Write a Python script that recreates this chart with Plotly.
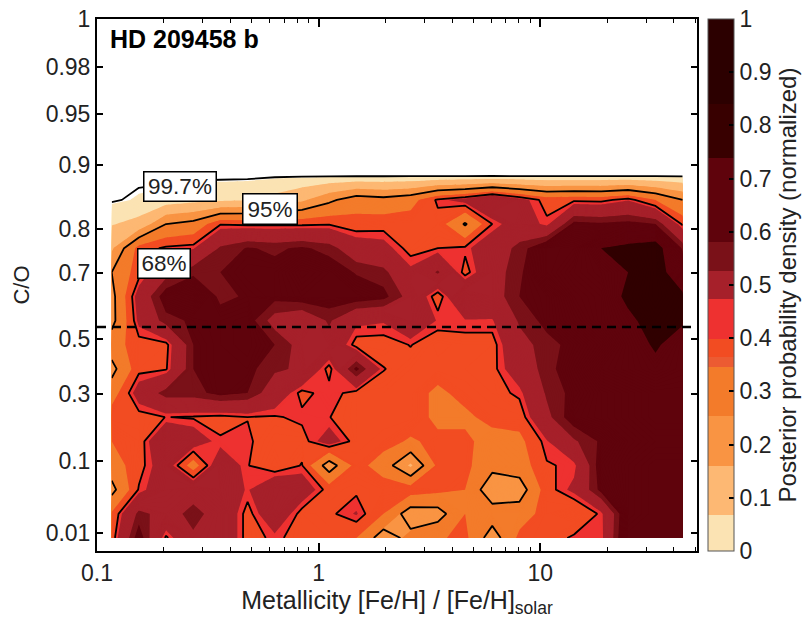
import plotly.graph_objects as go

metallicity = [.1165, .1545, .205, .272, .360, .478, .634, .841, 1.115, 1.48, 1.96,
               2.60, 3.45, 4.58, 6.07, 8.05, 10.7, 14.2, 18.8, 24.9, 33.1, 43.9]
row_pos = list(range(17))
density = [
 [.37,.62,.39,.52,.5,.38,.41,.38,.38,.34,.2,.28,.33,.36,.2,.36,.37,.41,.405,.68,.68,.68],
 [.35,.55,.5,.55,.5,.38,.49,.38,.39,.43,.34,.2,.21,.34,.3,.3,.37,.34,.41,.66,.68,.68],
 [.22,.405,.48,.5,.47,.42,.5,.47,.38,.39,.38,.38,.36,.34,.18,.2,.38,.44,.6,.66,.68,.68],
 [.3,.38,.47,.3,.49,.402,.365,.403,.2,.37,.30,.15,.36,.36,.28,.3,.395,.41,.62,.66,.68,.68],
 [.34,.37,.52,.47,.405,.405,.38,.38,.46,.38,.37,.33,.36,.36,.3,.32,.42,.52,.59,.64,.66,.66],
 [.38,.38,.401,.395,.385,.399,.395,.41,.401,.38,.38,.38,.32,.32,.37,.37,.51,.62,.64,.66,.68,.68],
 [.3,.46,.56,.56,.6,.58,.48,.385,.42,.38,.38,.38,.32,.37,.38,.41,.54,.6,.64,.66,.68,.68],
 [.22,.385,.395,.58,.6,.6,.54,.52,.38,.6,.402,.38,.38,.38,.385,.47,.56,.62,.68,.7,.72,.7],
 [.3,.38,.385,.58,.6,.61,.58,.5,.5,.38,.38,.402,.37,.38,.38,.5,.56,.6,.64,.7,.75,.7],
 [.22,.44,.56,.59,.6,.61,.5,.46,.54,.44,.43,.5,.42,.42,.42,.54,.6,.64,.68,.72,.78,.75],
 [.22,.46,.62,.64,.57,.585,.6,.62,.62,.62,.6,.5,.37,.53,.49,.58,.6,.66,.68,.76,.8,.76],
 [.25,.38,.5,.57,.58,.6,.6,.64,.62,.575,.55,.44,.54,.38,.49,.57,.65,.68,.7,.74,.8,.65],
 [.15,.37,.41,.42,.54,.585,.57,.59,.56,.47,.45,.38,.40,.41,.48,.55,.65,.66,.74,.77,.8,.57],
 [.07,.1,.25,.28,.396,.39,.39,.39,.396,.37,.38,.38,.38,.24,.40,.47,.41,.6,.59,.6,.58,.39],
 [.004,.02,.03,.05,.06,.07,.1,.15,.23,.3,.28,.31,.41,.45,.52,.45,.38,.39,.385,.42,.34,.25],
 [0,0,0,0,0,0,.004,.004,.004,.004,.004,.004,.004,.004,.004,.004,.004,.004,.004,.004,.004,.004],
 [0]*22,
]
band_edges = [0, .068, .16, .253, .345, .364, .398, .474, .526, .58, .738, .84, 1]
band_colors = ["#FBE3B3", "#FDB873", "#F99443", "#F37B2A", "#EC5B32", "#F24C22",
               "#EE3130", "#A6202A", "#7A1118", "#5F030C", "#380000", "#2C0000"]
map_edges = [0, .01, .068, .16, .253, .335, .398, .42, .526, .58, .738, 1]
map_colors = ["#FFFFFF", "#FBE3B3", "#FDB873", "#F99443", "#F37B2A", "#F24C22",
              "#EE3130", "#A6202A", "#7A1118", "#5F030C", "#300000"]
co_tick_pos = [.207, 3.19, 5.96, 8.24, 10.97, 12.8, 15.45, 17.57, 19.5, 21.49]
co_tick_text = ["0.01", "0.1", "0.3", "0.5", "0.7", "0.8", "0.9", "0.95", "0.98", "1"]
x_ticks = [.1, 1, 10]
x_tick_text = ["0.1", "1", "10"]
x_minor = [m * d for d in (.1, 1, 10) for m in range(2, 10)]
z_ticks = [0, .1, .2, .3, .4, .5, .6, .7, .8, .9, 1]
z_tick_text = ["0", "0.1", "0.2", "0.3", "0.4", "0.5", "0.6", "0.7", "0.8", "0.9", "1"]
solar_pos = 8.74
credible_levels = [.01, .25, .40]
FONT = "Liberation Sans"
INK = "#222222"


def stepped(edges, colors):
    scale = []
    for lo, hi, c in zip(edges[:-1], edges[1:], colors):
        scale += [[lo, c], [hi, c]]
    return scale


map_scale = stepped(map_edges, map_colors)
bar_scale = stepped(band_edges, band_colors)

fig = go.Figure()
fig.add_trace(go.Contour(
    x=metallicity, y=row_pos, z=density, autocontour=False, zmin=0, zmax=1,
    contours=dict(start=.005, end=1, size=.005, coloring="fill", showlines=False),
    colorscale=map_scale, showscale=False, line=dict(width=0, smoothing=0), hoverinfo="skip"))
for level in credible_levels:
    fig.add_trace(go.Contour(
        x=metallicity, y=row_pos, z=density, autocontour=False, showscale=False,
        contours=dict(start=level, end=level, size=1, coloring="none"),
        line=dict(color="black", width=1.8, smoothing=0), hoverinfo="skip"))
fig.add_trace(go.Scatter(
    x=[None], y=[None], mode="markers", hoverinfo="skip", showlegend=False,
    marker=dict(color=[0], cmin=0, cmax=1, colorscale=bar_scale, showscale=True,
                colorbar=dict(
                    x=1.0183, xanchor="left", xpad=0, ypad=0, y=.5, yanchor="middle",
                    len=1, lenmode="fraction", thickness=26, thicknessmode="pixels",
                    tickmode="array", tickvals=z_ticks, ticktext=z_tick_text,
                    ticks="inside", ticklen=5, tickcolor="black", tickwidth=1.5,
                    tickfont=dict(family=FONT, size=23, color=INK),
                    outlinecolor="#555555", outlinewidth=1, borderwidth=0,
                    title=dict(text="Posterior probability density (normalized)", side="right",
                               font=dict(family=FONT, size=24, color=INK))))))

fig.add_shape(type="line", xref="paper", x0=0, x1=1, yref="y", y0=solar_pos, y1=solar_pos,
              line=dict(color="black", width=2.5, dash="9px,6px"))

for text, cx, cy, w, h in [("99.7%", 180, 186, 71, 28), ("95%", 270, 209, 53, 29), ("68%", 164, 263, 51, 28)]:
    fig.add_annotation(text=text, xref="paper", yref="paper", x=(cx - 97) / 600, y=(551 - cy) / 532,
                       xanchor="center", yanchor="middle", showarrow=False, width=w, height=h,
                       bgcolor="white", bordercolor="black", borderwidth=1.5, borderpad=0,
                       font=dict(family=FONT, size=22.5, color=INK))
fig.add_annotation(text="<b>HD 209458 b</b>", xref="paper", yref="paper", x=(108 - 97) / 600, y=(551 - 39) / 532,
                   xanchor="left", yanchor="middle", showarrow=False,
                   font=dict(family=FONT, size=25, color="black"))

fig.update_layout(
    width=802, height=621, autosize=False, margin=dict(l=97, r=105, t=19, b=70, autoexpand=False),
    paper_bgcolor="white", plot_bgcolor="white", showlegend=False,
    font=dict(family=FONT, color=INK),
    xaxis=dict(type="log", range=[-1, 1.707], tickmode="array", tickvals=x_ticks, ticktext=x_tick_text,
               ticks="inside", ticklen=8, tickwidth=1.5, tickcolor="black",
               showline=True, linecolor="black", linewidth=2, mirror="ticks", showgrid=False, zeroline=False,
               tickfont=dict(family=FONT, size=23, color=INK),
               minor=dict(tickmode="array", tickvals=x_minor, ticks="inside", ticklen=4, tickwidth=1.2,
                          tickcolor="black", showgrid=False),
               title=dict(text="Metallicity [Fe/H] / [Fe/H]<sub>solar</sub>", standoff=4,
                          font=dict(family=FONT, size=25, color=INK))),
    yaxis=dict(range=[-.54, 21.49], tickmode="array", tickvals=co_tick_pos, ticktext=co_tick_text,
               ticks="inside", ticklen=6, tickwidth=1.5, tickcolor="black",
               showline=True, linecolor="black", linewidth=2, mirror="ticks", showgrid=False, zeroline=False,
               tickfont=dict(family=FONT, size=23, color=INK),
               title=dict(text="C/O", standoff=10, font=dict(family=FONT, size=22, color=INK))),
)
fig.write_html("out.html", config={"displayModeBar": False}, post_script="document.body.style.margin='0';")
